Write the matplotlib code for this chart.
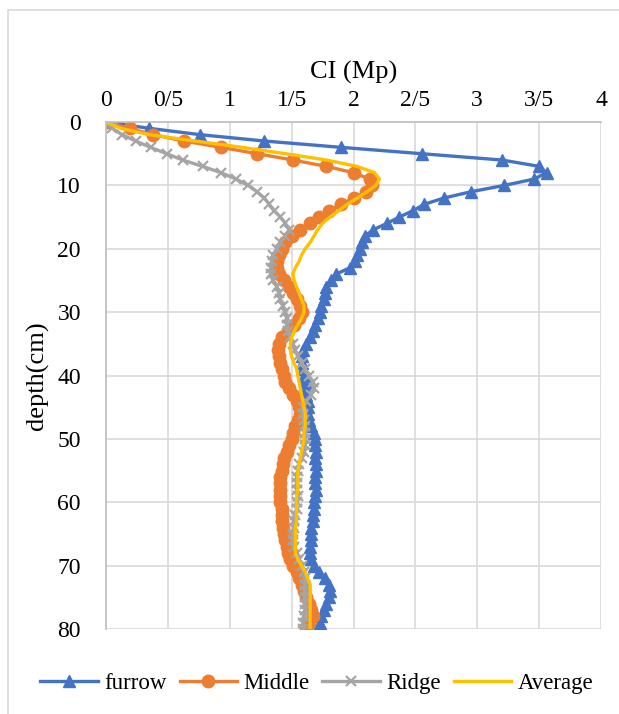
import matplotlib.pyplot as plt
from matplotlib.ticker import FuncFormatter, MultipleLocator
from matplotlib.patches import Rectangle

# depth (cm) and cone index readings for each position
depth = list(range(0, 81))

furrow = [0, 0.35, 0.76, 1.28, 1.90, 2.55, 3.20, 3.50, 3.56, 3.46,
          3.22, 2.95, 2.73, 2.57, 2.48, 2.37, 2.27, 2.16, 2.09, 2.07,
          2.05, 2.03, 2.01, 1.97, 1.86, 1.82, 1.78, 1.77, 1.76, 1.74,
          1.73, 1.71, 1.69, 1.67, 1.65, 1.62, 1.59, 1.58, 1.58, 1.59,
          1.60, 1.61, 1.62, 1.62, 1.63, 1.63, 1.63, 1.64, 1.66, 1.68,
          1.69, 1.69, 1.70, 1.69, 1.70, 1.70, 1.69, 1.69, 1.70, 1.69,
          1.68, 1.68, 1.67, 1.67, 1.66, 1.66, 1.66, 1.65, 1.65, 1.66,
          1.68, 1.72, 1.77, 1.80, 1.81, 1.80, 1.78, 1.76, 1.74, 1.73,
          1.73]

middle = [0, 0.19, 0.38, 0.63, 0.93, 1.22, 1.51, 1.78, 2.00, 2.13,
          2.15, 2.10, 2.00, 1.90, 1.80, 1.72, 1.65, 1.57, 1.50, 1.45,
          1.42, 1.40, 1.38, 1.38, 1.40, 1.44, 1.48, 1.51, 1.54, 1.57,
          1.58, 1.56, 1.52, 1.47, 1.42, 1.40, 1.39, 1.40, 1.41, 1.42,
          1.44, 1.45, 1.48, 1.51, 1.54, 1.56, 1.57, 1.55, 1.53, 1.51,
          1.50, 1.48, 1.46, 1.44, 1.43, 1.42, 1.41, 1.41, 1.41, 1.41,
          1.41, 1.42, 1.42, 1.42, 1.43, 1.44, 1.45, 1.46, 1.47, 1.49,
          1.51, 1.54, 1.56, 1.58, 1.60, 1.62, 1.64, 1.66, 1.67, 1.64,
          1.62]

ridge = [0, 0.05, 0.13, 0.24, 0.36, 0.49, 0.62, 0.78, 0.93, 1.05,
         1.15, 1.22, 1.28, 1.32, 1.36, 1.41, 1.45, 1.48, 1.45, 1.41,
         1.38, 1.35, 1.34, 1.33, 1.33, 1.35, 1.38, 1.40, 1.41, 1.43,
         1.45, 1.46, 1.46, 1.47, 1.49, 1.51, 1.53, 1.55, 1.58, 1.61,
         1.64, 1.67, 1.68, 1.66, 1.62, 1.59, 1.59, 1.60, 1.61, 1.61,
         1.61, 1.61, 1.60, 1.58, 1.56, 1.55, 1.54, 1.54, 1.54, 1.55,
         1.54, 1.54, 1.53, 1.52, 1.52, 1.51, 1.51, 1.52, 1.54, 1.56,
         1.58, 1.60, 1.61, 1.61, 1.61, 1.61, 1.61, 1.61, 1.60, 1.59,
         1.59]

average = [0, 0.12, 0.35, 0.72, 1.10, 1.45, 1.78, 2.03, 2.17, 2.21,
           2.18, 2.11, 2.03, 1.95, 1.88, 1.81, 1.75, 1.71, 1.68, 1.65,
           1.61, 1.58, 1.56, 1.53, 1.51, 1.52, 1.54, 1.56, 1.58, 1.60,
           1.60, 1.58, 1.55, 1.52, 1.50, 1.49, 1.49, 1.50, 1.52, 1.54,
           1.55, 1.56, 1.57, 1.58, 1.59, 1.60, 1.61, 1.61, 1.61, 1.60,
           1.60, 1.59, 1.58, 1.57, 1.56, 1.55, 1.55, 1.55, 1.55, 1.54,
           1.54, 1.54, 1.54, 1.54, 1.53, 1.53, 1.53, 1.53, 1.53, 1.55,
           1.58, 1.61, 1.63, 1.65, 1.65, 1.65, 1.65, 1.65, 1.65, 1.65,
           1.65]

plt.rcParams['font.family'] = ['Liberation Serif', 'DejaVu Serif']

fig = plt.figure(figsize=(6.19, 7.14), dpi=100)
ax = fig.add_axes([106/619, 1 - 629/714, 495/619, 507/714])

# chart area border
fig.patches.append(Rectangle((8/619, -0.1), 1.2, 1 - 10/714 + 0.1,
                             transform=fig.transFigure, fill=False,
                             edgecolor='#d9d9d9', linewidth=1.2))

ax.plot(furrow, depth, color='#4472C4', lw=2.4, marker='^', ms=8.5, label='furrow')
ax.plot(middle, depth, color='#ED7D31', lw=2.4, marker='o', ms=9, label='Middle')
ax.plot(ridge, depth, color='#A5A5A5', lw=2.4, marker='x', ms=7, mew=1.6, label='Ridge')
ax.plot(average, depth, color='#FFC000', lw=2.4, label='Average')

ax.set_xlim(0, 4)
ax.set_ylim(80, 0)
ax.xaxis.set_major_locator(MultipleLocator(0.5))
ax.yaxis.set_major_locator(MultipleLocator(10))
ax.xaxis.set_major_formatter(FuncFormatter(lambda v, p: f'{v:g}'.replace('.', '/')))
ax.xaxis.tick_top()
ax.xaxis.set_label_position('top')
ax.tick_params(length=0, labelsize=17, pad=8)
ax.tick_params(axis='y', pad=18)

ax.grid(color='#d9d9d9', lw=1.2)
ax.set_axisbelow(True)
for s in ['bottom', 'right']:
    ax.spines[s].set_visible(False)
for s in ['top', 'left']:
    ax.spines[s].set_color('#bfbfbf')
    ax.spines[s].set_linewidth(1.2)

ax.set_xlabel('CI (Mp)', fontsize=19, labelpad=8)
ax.set_ylabel('depth(cm)', fontsize=19, labelpad=6)

fig.legend(loc='center', bbox_to_anchor=(0.512, 0.043), ncol=4, frameon=False,
           fontsize=16.5, handlelength=2.5, handletextpad=0.3, columnspacing=0.55)

plt.savefig('out.png', dpi=100)
